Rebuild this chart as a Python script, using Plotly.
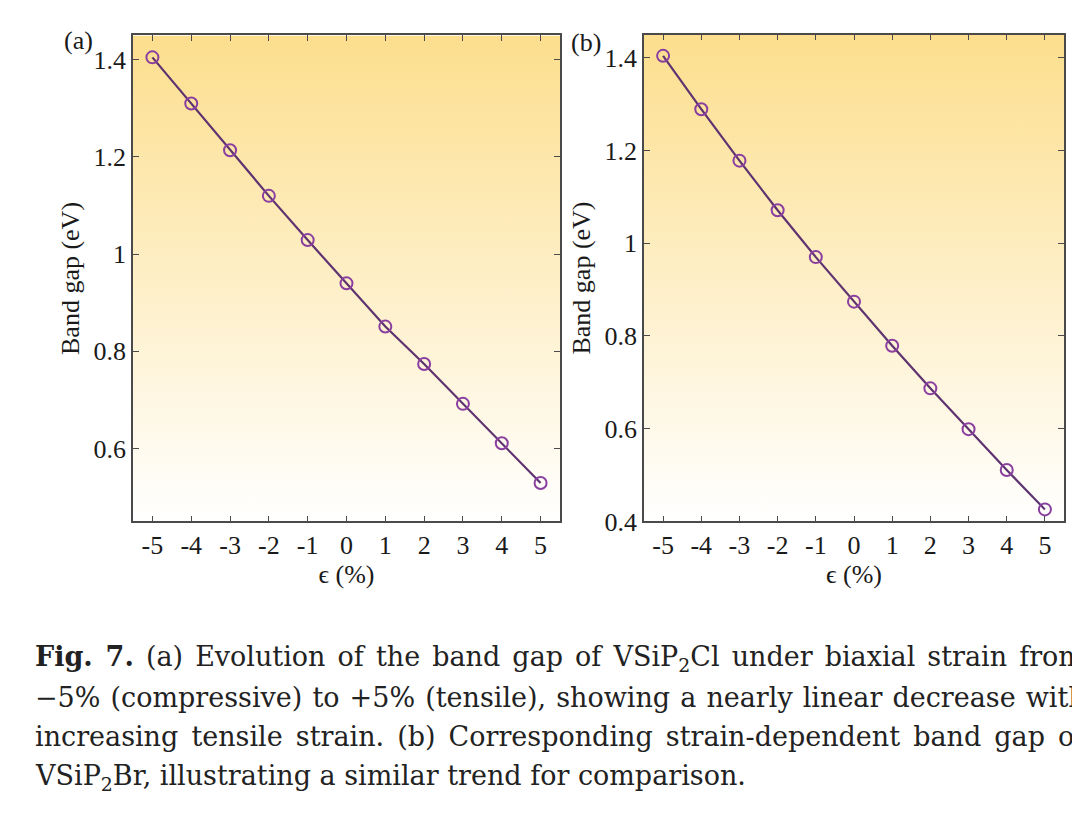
import plotly.graph_objects as go

# strain (%) and band gap (eV)
strain = [-5, -4, -3, -2, -1, 0, 1, 2, 3, 4, 5]
strain_labels = ["-5", "-4", "-3", "-2", "-1", "0", "1", "2", "3", "4", "5"]
gap_cl = [1.405, 1.310, 1.214, 1.120, 1.029, 0.940, 0.851, 0.774, 0.692, 0.611, 0.529]
gap_br = [1.404, 1.289, 1.178, 1.071, 0.970, 0.874, 0.779, 0.687, 0.599, 0.511, 0.426]

x_range = [-5.5, 5.5]
y_range_a = [0.45, 1.45]
y_range_b = [0.40, 1.45]
y_ticks_a = [0.6, 0.8, 1.0, 1.2, 1.4]
y_ticks_b = [0.4, 0.6, 0.8, 1.0, 1.2, 1.4]
y_ticktext_a = ["0.6", "0.8", "1", "1.2", "1.4"]
y_ticktext_b = ["0.4", "0.6", "0.8", "1", "1.2", "1.4"]

# caption text; the printed caption is justified, so each line gets its own word spacing
caption_lines = [
    "<b>Fig. 7.</b> (a) Evolution of the band gap of VSiP<sub>2</sub>Cl under biaxial strain from",
    "\u22125% (compressive) to +5% (tensile), showing a nearly linear decrease with",
    "increasing tensile strain. (b) Corresponding strain-dependent band gap of",
    "VSiP<sub>2</sub>Br, illustrating a similar trend for comparison.",
]
caption_word_gap = [3.5, 1.5, 4.5, 0]
caption_y = [671, 710.5, 750, 792]

W, H = 1080, 822
PAGE_PAD = 8  # the page body margin pushes the figure 8 px right and down
SERIF = "Liberation Serif"
LINE_C = "#5E3370"
MARK_C = "#8A3FA0"
AXIS_C = "#4a4a4a"
BG_SCALE = [[0, "#FFFFFF"], [1, "#FCDE8D"]]


def px_x(p):
    return (p - PAGE_PAD) / W


def px_y(p):
    return 1 - (p - PAGE_PAD) / H


fig = go.Figure()

panels = [
    ("x", "y", gap_cl, y_range_a),
    ("x2", "y2", gap_br, y_range_b),
]
for xa, ya, gap, yr in panels:
    # gradient background filling the plot area
    fig.add_trace(go.Scatter(
        x=[x_range[0], x_range[1], x_range[1], x_range[0], x_range[0]],
        y=[yr[0], yr[0], yr[1], yr[1], yr[0]],
        xaxis=xa, yaxis=ya, mode="none", fill="toself",
        fillgradient=dict(type="vertical", colorscale=BG_SCALE),
        hoverinfo="skip", showlegend=False,
    ))
    fig.add_trace(go.Scatter(
        x=strain, y=gap, xaxis=xa, yaxis=ya,
        mode="lines+markers",
        line=dict(color=LINE_C, width=2.2),
        marker=dict(symbol="circle-open", size=12, color=MARK_C,
                    line=dict(color=MARK_C, width=2)),
        showlegend=False,
    ))

axis_common = dict(
    showgrid=False, zeroline=False, showline=True, linecolor=AXIS_C, linewidth=1.5,
    mirror="ticks", ticks="inside", ticklen=6, tickwidth=1.2, tickcolor=AXIS_C,
    tickfont=dict(family=SERIF, size=26, color="#1a1a1a"),
    title_font=dict(family=SERIF, size=26, color="#1a1a1a"),
)

fig.update_layout(
    width=W, height=H,
    margin=dict(l=0, r=0, t=0, b=0),
    paper_bgcolor="white", plot_bgcolor="white",
    xaxis=dict(domain=[px_x(133), px_x(560)], range=x_range, tickvals=strain,
               ticktext=strain_labels, anchor="y",
               title=dict(text="\u03f5 (%)", standoff=2), **axis_common),
    yaxis=dict(domain=[px_y(531), px_y(36)], range=y_range_a, tickvals=y_ticks_a,
               ticktext=y_ticktext_a, anchor="x",
               title=dict(text="Band gap (eV)", standoff=6), **axis_common),
    xaxis2=dict(domain=[px_x(644), px_x(1064)], range=x_range, tickvals=strain,
                ticktext=strain_labels, anchor="y2",
                title=dict(text="\u03f5 (%)", standoff=2), **axis_common),
    yaxis2=dict(domain=[px_y(531), px_y(35)], range=y_range_b, tickvals=y_ticks_b,
                ticktext=y_ticktext_b, anchor="x2",
                title=dict(text="Band gap (eV)", standoff=6), **axis_common),
)

# panel labels
for label, xp, yp in [("(a)", 78, 41), ("(b)", 586, 43)]:
    fig.add_annotation(text=label, x=px_x(xp), y=px_y(yp), xref="paper", yref="paper",
                       showarrow=False, xanchor="center", yanchor="middle",
                       font=dict(family=SERIF, size=26, color="#1a1a1a"))

# caption, one annotation per line (the right end runs off the page as in the source)
for line, gap, yp in zip(caption_lines, caption_word_gap, caption_y):
    fig.add_annotation(text=f'<span style="word-spacing:{gap}px">{line}</span>',
                       x=px_x(33), y=px_y(yp),
                       xref="paper", yref="paper", showarrow=False,
                       xanchor="left", yanchor="middle", align="left",
                       font=dict(family="DejaVu Serif", size=27, color="#222222"))

fig.write_html("out.html")
